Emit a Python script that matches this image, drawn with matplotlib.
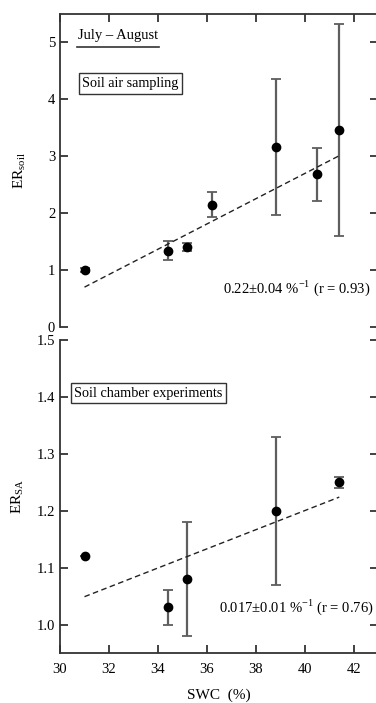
import numpy as np
import matplotlib
matplotlib.use("Agg")
import matplotlib.pyplot as plt

plt.rcParams['font.family'] = ['Liberation Serif', 'DejaVu Serif']
plt.rcParams['mathtext.fontset'] = 'custom'
plt.rcParams['mathtext.rm'] = 'Liberation Serif'

# Soil air sampling (July - August)
swc_soil = [31.0, 34.4, 35.2, 36.2, 38.8, 40.5, 41.4]
er_soil = [1.00, 1.34, 1.40, 2.15, 3.16, 2.68, 3.46]
er_soil_err = [0.03, 0.17, 0.07, 0.22, 1.20, 0.47, 1.87]
fit_soil = [0.70, 3.01]   # dashed regression at first / last SWC

# Soil chamber experiments
swc_sa = [31.0, 34.4, 35.2, 38.8, 41.4]
er_sa = [1.12, 1.03, 1.08, 1.20, 1.25]
er_sa_err = [0.0, 0.03, 0.10, 0.13, 0.01]
fit_sa = [1.049, 1.224]

soil_ticks = [0, 1, 2, 3, 4, 5]
sa_ticks = [1.0, 1.1, 1.2, 1.3, 1.4, 1.5]
swc_ticks = [30, 32, 34, 36, 38, 40, 42]

GREY = '#5e5e5e'


def style_axis(ax):
    for s in ax.spines.values():
        s.set_linewidth(1.3)
        s.set_color('#333333')
    ax.tick_params(direction='in', length=6, width=1.3, color='#333333',
                   labelsize=10.5, right=True)


def draw_panel(ax, x, y, yerr, fit):
    ax.errorbar(x, y, yerr=yerr, fmt='none', ecolor=GREY, elinewidth=1.6,
                capsize=3.6, capthick=1.3, zorder=2)
    ax.plot(x, y, 'o', color='black', ms=6, zorder=3)
    ax.plot([x[0], x[-1]], fit, '--', color='#222222', lw=1.0,
            dashes=(4, 2.5), zorder=2)


def main():
    fig = plt.figure(figsize=(3.76, 7.03), dpi=100)
    ax1 = fig.add_axes([0.1596, 0.5349, 0.847, 0.4452])
    ax2 = fig.add_axes([0.1596, 0.0711, 0.847, 0.4452])

    # upper panel
    draw_panel(ax1, swc_soil, er_soil, er_soil_err, fit_soil)
    ax1.set_xlim(30, 43)
    ax1.set_ylim(0, 5.5)
    ax1.set_yticks(soil_ticks)
    ax1.set_xticks(swc_ticks)
    style_axis(ax1)
    ax1.spines['bottom'].set_visible(False)
    ax1.tick_params(axis='x', bottom=False, top=True, labelbottom=False)
    ax1.set_ylabel('ER$_{\\mathrm{soil}}$', fontsize=11, labelpad=14)
    ax1.text(0.055, 0.93, 'July \u2013 August', transform=ax1.transAxes,
             fontsize=10.5, ha='left', va='center')
    ax1.plot([0.052, 0.31], [0.8955, 0.8955], transform=ax1.transAxes,
             color='#333333', lw=1.2, clip_on=False)
    ax1.text(0.07, 0.778, 'Soil air sampling', transform=ax1.transAxes,
             fontsize=10.2, ha='left', va='center',
             bbox=dict(boxstyle='square,pad=0.25', fc='white', ec='#333333', lw=1.0))
    ax1.text(0.975, 0.125, '0.22\u00b10.04 %$^{-1}$ (r = 0.93)',
             transform=ax1.transAxes, fontsize=10.5, ha='right', va='center')

    # lower panel
    draw_panel(ax2, swc_sa, er_sa, er_sa_err, fit_sa)
    ax2.set_xlim(30, 43)
    ax2.set_ylim(0.95, 1.5)
    ax2.set_yticks(sa_ticks)
    ax2.set_yticklabels(['%.1f' % v for v in sa_ticks])
    ax2.set_xticks(swc_ticks)
    style_axis(ax2)
    ax2.spines['top'].set_visible(False)
    ax2.tick_params(axis='x', top=False, pad=7)
    ax2.set_ylabel('ER$_{\\mathrm{SA}}$', fontsize=11, labelpad=8)
    ax2.set_xlabel('SWC  (%)', fontsize=11, labelpad=9)
    ax2.text(0.045, 0.83, 'Soil chamber experiments', transform=ax2.transAxes,
             fontsize=10.3, ha='left', va='center',
             bbox=dict(boxstyle='square,pad=0.25', fc='white', ec='#333333', lw=1.0))
    ax2.text(0.985, 0.145, '0.017\u00b10.01 %$^{-1}$ (r = 0.76)',
             transform=ax2.transAxes, fontsize=10.5, ha='right', va='center')

    fig.savefig('out.png', dpi=100)


if __name__ == "__main__":
    main()
